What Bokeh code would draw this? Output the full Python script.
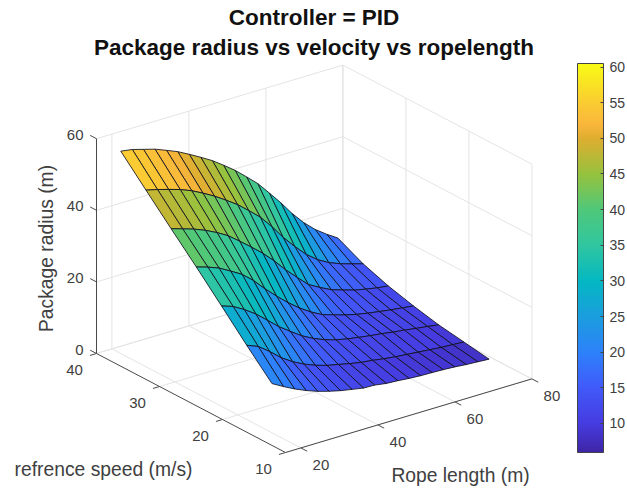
import numpy as np
from bokeh.plotting import figure
from bokeh.models import ColumnDataSource, ColorBar, LinearColorMapper, FixedTicker, Label, Range1d
from bokeh.core.properties import value
from bokeh.embed import file_html
from bokeh.resources import INLINE

FONT = "Liberation Sans"
rope_length = [22.3, 25.3, 28.2, 31.2, 34.2, 37.1, 40.1, 43.1, 46.1, 49.0, 52.0, 55.0, 57.9, 60.9, 63.9, 66.8, 69.8, 72.8, 75.8, 78.7]
ref_speed = [40, 36, 32, 28, 24, 20, 16]
radius_40 = [54.5, 54.0, 53.1, 52.2, 50.9, 49.6, 47.9, 46.1, 44.2, 42.0, 39.6, 36.8, 34.0, 30.4, 26.7, 22.8, 19.3, 16.4, 14.1, 12.1]
radius_36 = [47.3, 46.5, 45.6, 44.6, 43.3, 41.7, 39.9, 37.8, 35.6, 33.0, 30.2, 26.6, 22.7, 19.2, 16.0, 13.6, 11.8, 10.5, 9.5, 8.6]
radius_32 = [40.2, 39.2, 38.2, 36.9, 35.3, 33.5, 31.0, 28.4, 25.7, 22.7, 19.2, 16.1, 13.2, 11.4, 9.8, 8.8, 7.8, 7.1, 6.5, 6.1]
radius_28 = [33.2, 32.2, 31.0, 29.2, 27.3, 24.7, 21.4, 18.4, 15.6, 13.2, 11.1, 9.4, 8.4, 7.4, 6.6, 6.0, 5.5, 5.0, 4.6, 4.2]
radius_24 = [26.0, 24.9, 23.1, 20.9, 18.2, 15.5, 13.2, 11.0, 9.3, 8.0, 7.0, 6.3, 5.8, 5.3, 4.9, 4.4, 4.0, 3.5, 3.1, 2.6]
radius_20 = [18.7, 17.4, 15.1, 12.4, 10.3, 8.7, 7.4, 6.4, 5.7, 5.0, 4.4, 4.0, 3.5, 3.1, 2.8, 2.5, 2.2, 1.9, 1.7, 1.5]
radius_16 = [11.7, 9.9, 8.3, 6.9, 5.7, 4.8, 4.0, 3.4, 2.8, 2.7, 2.2, 2.0, 1.7, 1.5, 1.4, 1.3, 1.1, 0.8, 0.6, 0.4]
x_ticks = [20, 40, 60, 80]
y_ticks = [10, 20, 30, 40]
z_ticks = [0, 20, 40, 60]
colorbar_ticks = [10, 15, 20, 25, 30, 35, 40, 45, 50, 55, 60]
colour_low, colour_high = 5.93, 60.5
# colour the low, flat part of the sheet the way the reference does
shade_radius = [0, 5, 14, 20, 60]
shade_value = [7, 11, 17, 22, 60]
parula_at = [5.93, 10, 15, 20, 25, 30, 35, 40, 45, 50, 52, 55, 60.5]
parula_r = [62, 70, 65, 45, 27, 4, 48, 79, 150, 222, 250, 250, 249]
parula_g = [38, 60, 90, 130, 158, 184, 198, 200, 194, 174, 182, 203, 251]
parula_b = [168, 225, 250, 250, 222, 194, 160, 122, 62, 48, 60, 50, 21]

radius = np.array([radius_40, radius_36, radius_32, radius_28, radius_24, radius_20, radius_16])

# orthographic view of the MATLAB box
X0, Y0 = 16.0, 10.0
XMAX, YMAX, ZMAX = 80.0, 40.0, 60.0
def project(x, y, z):
    x, y, z = np.asarray(x, float), np.asarray(y, float), np.asarray(z, float)
    px = 285 + (x - X0) * 3.85 - (y - Y0) * 6.3
    py = 452 - (x - X0) * 1.15 - (y - Y0) * 3.3 - z * 3.58
    return px, py

p = figure(width=627, height=488, output_backend="svg", toolbar_location=None,
           x_range=Range1d(0, 627), y_range=Range1d(488, 0), min_border=0)
p.xaxis.visible = False
p.yaxis.visible = False
p.grid.visible = False
p.outline_line_color = None

def seg(a, b):
    xs, ys = project([a[0], b[0]], [a[1], b[1]], [a[2], b[2]])
    return list(xs), list(ys)

grid = []
for t in x_ticks:
    grid += [seg((t, Y0, 0), (t, YMAX, 0)), seg((t, YMAX, 0), (t, YMAX, ZMAX))]
for t in y_ticks:
    grid += [seg((X0, t, 0), (XMAX, t, 0)), seg((XMAX, t, 0), (XMAX, t, ZMAX))]
for t in z_ticks:
    grid += [seg((X0, YMAX, t), (XMAX, YMAX, t)), seg((XMAX, YMAX, t), (XMAX, Y0, t))]
p.multi_line([g[0] for g in grid], [g[1] for g in grid], line_color="#e4e4e4", line_width=1)

ax = [seg((X0, YMAX, 0), (X0, YMAX, ZMAX)), seg((X0, YMAX, 0), (X0, Y0, 0)), seg((X0, Y0, 0), (XMAX, Y0, 0))]
for t in x_ticks:
    ax.append(seg((t, Y0, 0), (t, Y0 - 1.0, 0)))
for t in y_ticks:
    ax.append(seg((X0, t, 0), (X0 - 1.7, t, 0)))
for t in z_ticks:
    ax.append(seg((X0, YMAX, t), (X0, YMAX + 1.0, t)))
p.multi_line([a[0] for a in ax], [a[1] for a in ax], line_color="#4a4a4a", line_width=1)

parula = ["#%02x%02x%02x" % tuple(int(round(np.interp(v, parula_at, c))) for c in (parula_r, parula_g, parula_b))
          for v in np.linspace(colour_low, colour_high, 256)]
mapper = LinearColorMapper(palette=parula, low=colour_low, high=colour_high)

xs, ys, cs = [], [], []
for k in range(len(ref_speed) - 1):
    for i in range(len(rope_length) - 2, -1, -1):
        cx = [rope_length[i], rope_length[i + 1], rope_length[i + 1], rope_length[i]]
        cy = [ref_speed[k], ref_speed[k], ref_speed[k + 1], ref_speed[k + 1]]
        cz = [radius[k, i], radius[k, i + 1], radius[k + 1, i + 1], radius[k + 1, i]]
        px, py = project(cx, cy, cz)
        xs.append(list(px))
        ys.append(list(py))
        cs.append(float(np.interp(radius[k, i], shade_radius, shade_value)))
src = ColumnDataSource(dict(xs=xs, ys=ys, c=cs))
p.patches("xs", "ys", source=src, fill_color={"field": "c", "transform": mapper},
          line_color="#101020", line_width=1, line_alpha=0.85)

def tick_text(xv, yv, zv, labels, dx, dy, align="center"):
    px, py = project(xv, yv, zv)
    p.text(px, py, text=labels, x_offset=dx, y_offset=dy, text_align=align, text_baseline="middle",
           text_font=value(FONT), text_font_size="15px", text_color="#404040")

tick_text(x_ticks, [Y0] * 4, [0] * 4, [str(t) for t in x_ticks], 20, 17)
tick_text([X0] * 4, y_ticks, [0] * 4, [str(t) for t in y_ticks], -22, 16)
tick_text([X0] * 4, [YMAX] * 4, z_ticks, [str(t) for t in z_ticks], -13, -4, "right")

bar = ColorBar(color_mapper=mapper, ticker=FixedTicker(ticks=colorbar_ticks), width=26, height=389,
               location=(577, 36), padding=0, margin=0, bar_line_color="#444444", bar_line_width=1,
               major_tick_line_color="#444444", major_tick_in=3, major_tick_out=0, minor_tick_line_color=None,
               major_label_text_font=FONT, major_label_text_font_size="14px", major_label_text_color="#404040",
               label_standoff=6, background_fill_color=None, border_line_color=None)
p.add_layout(bar, "center")

def label(text, x, y, size, bold=False, angle=0.0, color="#404040", align="center"):
    p.add_layout(Label(x=x, y=y, text=text, text_font=FONT, text_font_size=size, text_color=color,
                       text_font_style="bold" if bold else "normal", angle=angle, angle_units="deg",
                       text_align=align, text_baseline="middle"))

label("Controller = PID", 313.5, 17, "22.5px", True, color="#111111")
label("Package radius vs velocity vs ropelength", 313.5, 47, "22.5px", True, color="#111111")
label("Package radius (m)", 46, 248, "19.3px", angle=90)
label("refrence speed (m/s)", 103, 469, "19.3px")
label("Rope length (m)", 460, 475, "19.3px")

open("out.html", "w").write(file_html(p, INLINE))
